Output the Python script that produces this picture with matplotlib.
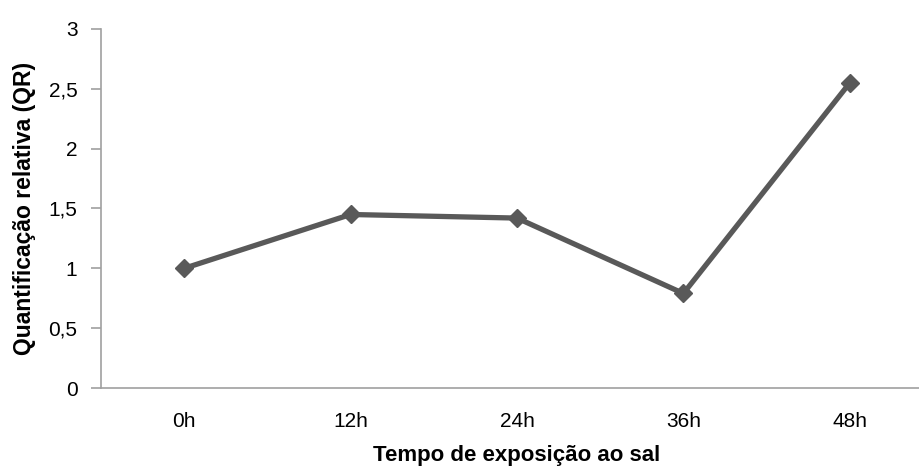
import matplotlib

matplotlib.use("Agg")
import matplotlib.pyplot as plt

plt.rcParams.update({
    "font.family": ["Liberation Sans", "DejaVu Sans"],
    "font.size": 15,
})

# data
categories = ["0h", "12h", "24h", "36h", "48h"]
qr_values = [1.0, 1.45, 1.42, 0.79, 2.55]
y_ticks = [0, 0.5, 1, 1.5, 2, 2.5, 3]
y_tick_labels = ["0", "0,5", "1", "1,5", "2", "2,5", "3"]

GREY = "#595959"
AXIS_GREY = "#a0a0a0"

fig = plt.figure(figsize=(9.19, 4.70), dpi=100)
# plot area: y spine at x=101 px, x axis at y=388 px, top at y=29 px
ax = fig.add_axes([101 / 919, (470 - 388) / 470, 832 / 919, 359 / 470])

x = range(len(categories))
ax.plot(x, qr_values, color=GREY, lw=3.8, marker="D", markersize=9.5,
        markerfacecolor=GREY, markeredgecolor=GREY, clip_on=False)

ax.set_xlim(-0.5, len(categories) - 0.5)
ax.set_ylim(0, 3)
ax.set_xticks(list(x))
ax.set_xticklabels(categories)
ax.set_yticks(y_ticks)
ax.set_yticklabels(y_tick_labels)

for side in ("top", "right"):
    ax.spines[side].set_visible(False)
for side in ("left", "bottom"):
    ax.spines[side].set_color(AXIS_GREY)
    ax.spines[side].set_linewidth(1.2)

ax.tick_params(axis="y", length=7, width=1.2, color=AXIS_GREY, pad=10, labelsize=15)
ax.tick_params(axis="x", length=0, pad=17, labelsize=15)

ax.set_xlabel("Tempo de exposição ao sal", fontweight="bold", fontsize=16)
ax.set_ylabel("Quantificação relativa (QR)", fontweight="bold", fontsize=16.5)
ax.xaxis.set_label_coords(0.5, -0.158)
ax.yaxis.set_label_coords(-0.078, 0.5)

fig.savefig("out.png", dpi=100)
